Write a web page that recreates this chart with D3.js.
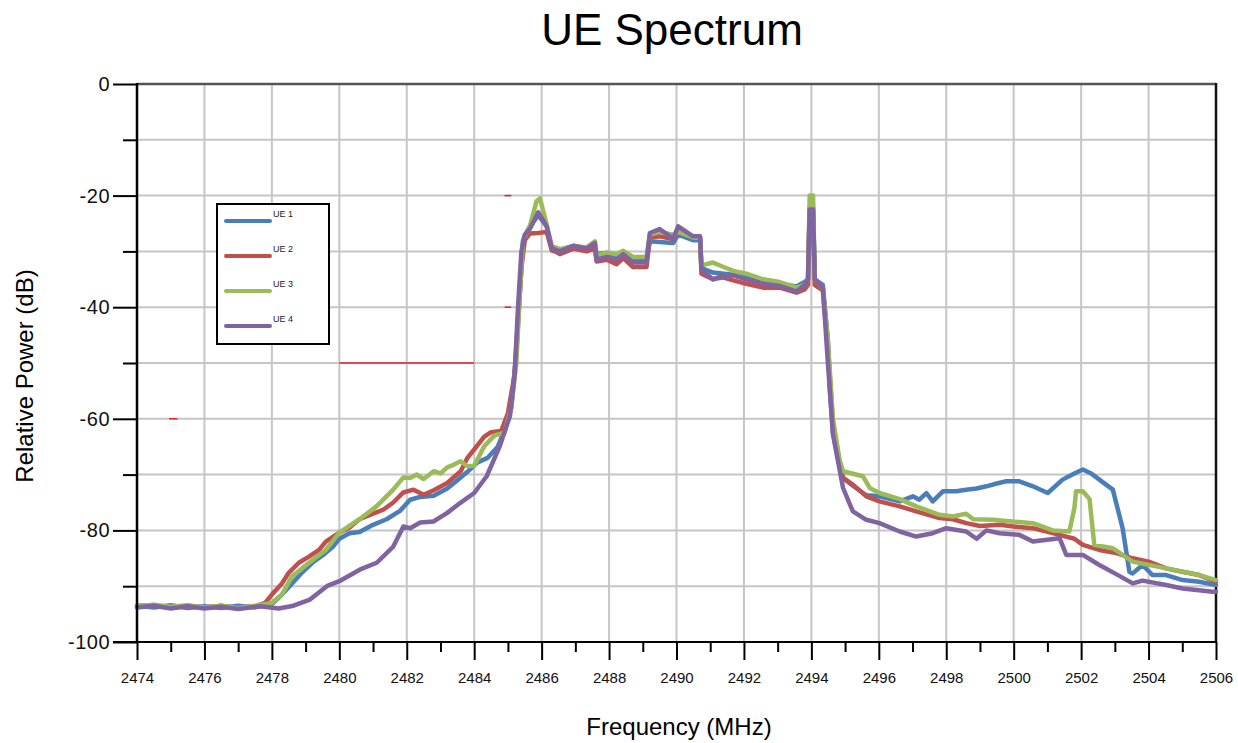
<!DOCTYPE html>
<html>
<head>
<meta charset="utf-8">
<script src="https://cdn.jsdelivr.net/npm/d3@7"></script>
<style>
  body { margin: 0; background: #fff; }
  text { font-family: "Liberation Sans", Arial, sans-serif; }
</style>
</head>
<body>
<svg id="chart" width="1238" height="743"></svg>
<script>
// 数据：频率 (MHz), 相对功率 (dB)
var seriesNames = ["UE 1", "UE 2", "UE 3", "UE 4"];

var ue1 = [[2474,-93.5],[2474.5,-93.8],[2475,-93.4],[2475.5,-93.9],[2476,-93.6],[2476.5,-93.9],[2477,-93.5],[2477.5,-93.8],
  [2478,-93.2],[2478.3,-91.5],[2478.6,-89.5],[2478.9,-87.5],[2479.2,-85.8],[2479.5,-84.5],[2479.8,-83],[2480,-81.5],
  [2480.3,-80.5],[2480.6,-80.3],[2481,-79],[2481.4,-78],[2481.8,-76.5],[2482.1,-74.5],[2482.4,-74],[2482.8,-73.8],
  [2483.2,-72.5],[2483.5,-71],[2483.8,-69.5],[2484.1,-67.8],[2484.4,-67],[2484.7,-65],[2484.9,-62],[2485.1,-58],
  [2485.25,-48],[2485.35,-38],[2485.45,-28],[2485.6,-26],[2485.9,-23.5],[2486.15,-25.5],[2486.3,-29.5],[2486.54,-30.5],
  [2486.94,-29.5],[2487.33,-29.8],[2487.58,-29],[2487.63,-30.5],[2487.93,-30.3],[2488.22,-31],[2488.42,-30.5],[2488.71,-31.5],
  [2489.11,-31.5],[2489.21,-28.2],[2489.5,-28.3],[2489.9,-28.5],[2490.05,-27],[2490.49,-28],[2490.7,-28],[2490.74,-33],
  [2491.08,-33.8],[2491.68,-34.2],[2492.07,-34.5],[2492.57,-35.3],[2493.06,-35.8],[2493.56,-36.3],[2493.8,-35.5],[2493.9,-35],
  [2493.95,-22],[2494.05,-22],[2494.1,-35],[2494.34,-36],[2494.49,-46],[2494.55,-55],[2494.64,-62.5],[2494.84,-68.5],
  [2494.94,-70.6],[2495.23,-72],[2495.63,-73.7],[2496.02,-73.9],[2496.62,-74.8],[2497.01,-73.9],[2497.2,-74.5],[2497.41,-73.3],
  [2497.6,-74.8],[2497.9,-73],[2498.3,-73],[2498.59,-72.7],[2498.9,-72.5],[2499.19,-72.1],[2499.5,-71.6],[2499.78,-71.2],
  [2500.17,-71.2],[2500.57,-72.1],[2501.01,-73.3],[2501.45,-70.9],[2501.8,-69.8],[2502.05,-69.1],[2502.3,-69.8],[2502.54,-70.9],
  [2502.94,-72.7],[2503.23,-79.6],[2503.43,-87.4],[2503.53,-87.7],[2503.82,-86.2],[2504.12,-88],[2504.52,-88],[2505.01,-88.9],
  [2505.5,-89.2],[2506,-89.8]];

var ue2 = [[2474,-93.5],[2474.5,-93.4],[2475,-93.8],[2475.5,-93.5],[2476,-93.8],[2476.5,-93.5],[2477,-93.9],[2477.5,-93.6],
  [2477.8,-93],[2478,-91.5],[2478.3,-89.5],[2478.5,-87.6],[2478.8,-85.8],[2479.1,-84.7],[2479.4,-83.5],[2479.6,-82],
  [2480,-80.4],[2480.3,-79.5],[2480.6,-78],[2481,-77],[2481.3,-76.3],[2481.6,-75],[2481.9,-73.2],[2482.2,-72.7],
  [2482.5,-73.6],[2482.8,-72.8],[2483.2,-71.5],[2483.6,-69.4],[2483.8,-67],[2484,-65.5],[2484.3,-63.2],[2484.5,-62.4],
  [2484.8,-62.2],[2485,-59],[2485.2,-52],[2485.3,-42],[2485.4,-33],[2485.5,-28],[2485.65,-26.8],[2485.9,-26.7],
  [2486.15,-26.5],[2486.3,-29.8],[2486.54,-30.3],[2486.94,-29.5],[2487.33,-30],[2487.58,-29.5],[2487.63,-31.8],[2487.93,-31.5],
  [2488.22,-32.3],[2488.42,-31.2],[2488.71,-32.8],[2489.11,-32.8],[2489.21,-27.5],[2489.5,-27.3],[2489.9,-27.8],[2490.05,-26.5],
  [2490.49,-27.3],[2490.7,-27.5],[2490.74,-34],[2491.08,-35],[2491.3,-34.5],[2491.68,-35.2],[2492.07,-35.8],[2492.57,-36.5],
  [2493.06,-36.5],[2493.56,-37.4],[2493.8,-36.8],[2493.9,-36],[2493.95,-23],[2494.05,-23],[2494.1,-36],[2494.34,-37],
  [2494.49,-47],[2494.64,-61],[2494.84,-68],[2494.94,-70.6],[2495.23,-71.8],[2495.63,-73.9],[2496.02,-74.8],[2496.62,-75.7],
  [2497.11,-76.6],[2497.8,-77.8],[2498.2,-78],[2498.59,-78.7],[2499,-79.2],[2499.58,-79],[2500,-79.3],[2500.57,-79.6],
  [2501.36,-80.8],[2501.8,-81.5],[2502.05,-82.6],[2502.54,-83.5],[2503,-84],[2503.53,-85],[2504,-85.6],[2504.52,-86.8],
  [2505,-87.4],[2505.5,-88],[2506,-89.2]];

var ue3 = [[2474,-93.6],[2474.5,-93.3],[2475,-93.7],[2475.5,-93.4],[2476,-93.8],[2476.5,-93.5],[2477,-93.9],[2477.5,-93.5],
  [2478,-93],[2478.3,-91.5],[2478.6,-88.2],[2478.9,-86.8],[2479.1,-85.8],[2479.6,-83.5],[2480,-80.4],[2480.6,-78],
  [2481.1,-75.7],[2481.6,-72.7],[2481.9,-70.5],[2482.1,-70.6],[2482.3,-70],[2482.5,-70.8],[2482.8,-69.4],[2483,-69.8],
  [2483.2,-68.7],[2483.4,-68.2],[2483.6,-67.6],[2483.8,-68.5],[2484,-68.4],[2484.3,-64.9],[2484.6,-63],[2484.9,-62.5],
  [2485.1,-58],[2485.25,-50],[2485.35,-38],[2485.45,-28],[2485.65,-25.5],[2485.85,-21],[2485.95,-20.5],[2486.1,-24],
  [2486.3,-29],[2486.54,-29.6],[2486.94,-29],[2487.33,-29.3],[2487.58,-28.2],[2487.63,-30.8],[2487.93,-30.2],[2488.22,-30.5],
  [2488.42,-29.9],[2488.71,-31],[2489.11,-31],[2489.21,-27],[2489.5,-26.5],[2489.9,-27],[2490.05,-26.5],[2490.49,-27.5],
  [2490.7,-27.6],[2490.74,-32.5],[2491.08,-32],[2491.4,-32.8],[2491.68,-33.5],[2492.07,-34],[2492.57,-35],[2493.06,-35.5],
  [2493.56,-36.5],[2493.8,-36],[2493.9,-35],[2493.95,-20],[2494.05,-20],[2494.1,-35],[2494.34,-36.5],[2494.49,-46],
  [2494.64,-60],[2494.84,-67.5],[2494.94,-69.4],[2495.53,-70.3],[2495.73,-72.4],[2496.02,-73.3],[2496.62,-74.4],[2497.11,-75.7],
  [2497.8,-77.2],[2498.2,-77.5],[2498.59,-77],[2498.8,-78],[2499.38,-78.1],[2499.78,-78.3],[2500.57,-78.7],[2501.16,-80],
  [2501.65,-80.2],[2501.8,-76],[2501.85,-73],[2502.05,-73],[2502.25,-74.4],[2502.39,-82.6],[2502.94,-83.2],[2503.53,-85.6],
  [2504.52,-86.8],[2505.5,-88],[2506,-88.9]];

var ue4 = [[2474,-93.8],[2474.5,-93.5],[2475,-94],[2475.5,-93.6],[2476,-94],[2476.5,-93.7],[2477,-94.1],[2477.65,-93.6],
  [2478.2,-94],[2478.64,-93.5],[2479.13,-92.4],[2479.63,-90],[2480,-89.1],[2480.62,-87],[2481.11,-85.8],[2481.6,-82.9],
  [2481.9,-79.3],[2482.1,-79.6],[2482.4,-78.6],[2482.79,-78.4],[2483.19,-76.9],[2483.58,-75.1],[2484,-73.3],[2484.37,-70.3],
  [2484.76,-64.9],[2485.06,-59.5],[2485.2,-52],[2485.3,-40],[2485.4,-30],[2485.5,-27],[2485.65,-26],[2485.9,-23],
  [2486.15,-25.5],[2486.3,-29.4],[2486.54,-30],[2486.94,-29],[2487.33,-29.5],[2487.58,-28.5],[2487.63,-31.5],[2487.93,-31],
  [2488.22,-31.5],[2488.42,-30.5],[2488.71,-32],[2489.11,-32],[2489.21,-26.7],[2489.5,-26],[2489.9,-27.7],[2490.05,-25.5],
  [2490.49,-27.3],[2490.7,-27.3],[2490.74,-33.3],[2491.08,-35],[2491.68,-34.3],[2492.07,-35],[2492.57,-35.8],[2493.06,-36.2],
  [2493.56,-37.2],[2493.8,-36],[2493.9,-35],[2493.95,-22.5],[2494.05,-22.5],[2494.1,-35],[2494.34,-36.5],[2494.49,-50],
  [2494.64,-62.8],[2494.94,-72.4],[2495.23,-76.6],[2495.63,-78.1],[2496.02,-78.7],[2496.62,-80.2],[2497.11,-81.1],[2497.6,-80.5],
  [2498,-79.6],[2498.59,-80.2],[2498.9,-81.5],[2499.19,-80],[2499.58,-80.5],[2500.17,-80.8],[2500.57,-82],[2501.36,-81.4],
  [2501.56,-84.4],[2502.05,-84.4],[2502.54,-86.2],[2503,-87.7],[2503.53,-89.5],[2503.82,-89],[2504.52,-89.8],[2505.01,-90.4],
  [2505.9,-91],[2506,-91]];

var allSeries = [ue1, ue2, ue3, ue4];

var xTickLabels = [2474, 2476, 2478, 2480, 2482, 2484, 2486, 2488, 2490, 2492, 2494, 2496, 2498, 2500, 2502, 2504, 2506];
var xMinorTicks = [2475, 2477, 2479, 2481, 2483, 2485, 2487, 2489, 2491, 2493, 2495, 2497, 2499, 2501, 2503, 2505];
var yTickLabels = [0, -20, -40, -60, -80, -100];
var yMinorTicks = [-10, -30, -50, -70, -90];
var yGrid = [-10, -20, -30, -40, -50, -60, -70, -80, -90];

// 图上零散的红色短线 [起始频率, 结束频率, dB]
var strayMarks = [[2474.95, 2475.2, -60], [2480, 2484, -50], [2484.9, 2485.1, -20], [2484.9, 2485.1, -40]];

var lineColor = ["#4a7ebb", "#c0504d", "#9bbb59", "#8064a2"];

var plotLeft = 137, plotRight = 1216, plotTop = 84, plotBottom = 642;

var svg = d3.select("#chart");

var xScale = d3.scaleLinear().domain([2474, 2506]).range([plotLeft, plotRight]);
var yScale = d3.scaleLinear().domain([0, -100]).range([plotTop, plotBottom]);

// 标题
svg.append("text")
  .attr("x", 672).attr("y", 45)
  .attr("text-anchor", "middle")
  .style("font-size", "44px")
  .text("UE Spectrum");

// 网格线
svg.append("g").selectAll("line")
  .data(xTickLabels.slice(1, -1))
  .enter().append("line")
  .attr("x1", function(d) { return xScale(d); })
  .attr("x2", function(d) { return xScale(d); })
  .attr("y1", plotTop).attr("y2", plotBottom)
  .style("stroke", "#c6c6c6").style("stroke-width", 2);

svg.append("g").selectAll("line")
  .data(yGrid)
  .enter().append("line")
  .attr("x1", plotLeft).attr("x2", plotRight)
  .attr("y1", function(d) { return yScale(d); })
  .attr("y2", function(d) { return yScale(d); })
  .style("stroke", "#c6c6c6").style("stroke-width", 2);

// 红色短线
svg.append("g").selectAll("line")
  .data(strayMarks)
  .enter().append("line")
  .attr("x1", function(d) { return xScale(d[0]); })
  .attr("x2", function(d) { return xScale(d[1]); })
  .attr("y1", function(d) { return yScale(d[2]); })
  .attr("y2", function(d) { return yScale(d[2]); })
  .style("stroke", "#e8202a").style("stroke-width", 1.5);

// 边框
svg.append("line")
  .attr("x1", plotLeft).attr("x2", plotRight).attr("y1", plotTop).attr("y2", plotTop)
  .style("stroke", "#555").style("stroke-width", 2.5);
svg.append("line")
  .attr("x1", plotRight).attr("x2", plotRight).attr("y1", plotTop - 1).attr("y2", plotBottom)
  .style("stroke", "#111").style("stroke-width", 2.5);

// 折线
var line = d3.line()
  .x(function(d) { return xScale(d[0]); })
  .y(function(d) { return yScale(d[1]); });

svg.append("g").selectAll("path")
  .data(allSeries)
  .enter().append("path")
  .attr("d", line)
  .style("fill", "none")
  .style("stroke", function(d, i) { return lineColor[i]; })
  .style("stroke-width", 4.5)
  .style("stroke-linejoin", "round")
  .style("stroke-linecap", "round");

// 纵轴
var yAxis = d3.axisLeft(yScale)
  .tickValues(yTickLabels)
  .tickSize(24)
  .tickPadding(3)
  .tickFormat(function(d) { return d; });
var yBar = svg.append("g")
  .attr("transform", "translate(" + plotLeft + ",0)")
  .call(yAxis);
yBar.select(".domain").remove();
yBar.selectAll(".tick line").style("stroke", "#000").style("stroke-width", 2);
yBar.selectAll("text").style("font-size", "20px").style("letter-spacing", "0.5px").style("font-family", "'Liberation Sans', Arial, sans-serif").style("fill", "#111");

var yMinor = svg.append("g")
  .attr("transform", "translate(" + plotLeft + ",0)")
  .call(d3.axisLeft(yScale).tickValues(yMinorTicks).tickSize(14).tickFormat(""));
yMinor.select(".domain").remove();
yMinor.selectAll(".tick line").style("stroke", "#000").style("stroke-width", 2);

svg.append("line")
  .attr("x1", plotLeft).attr("x2", plotLeft).attr("y1", plotTop - 1).attr("y2", plotBottom)
  .style("stroke", "#000").style("stroke-width", 2.5);

// 横轴
var xAxis = d3.axisBottom(xScale)
  .tickValues(xTickLabels)
  .tickSize(18)
  .tickPadding(12)
  .tickFormat(function(d) { return d; });
var xBar = svg.append("g")
  .attr("transform", "translate(0," + plotBottom + ")")
  .call(xAxis);
xBar.select(".domain").remove();
xBar.selectAll(".tick line").style("stroke", "#000").style("stroke-width", 2);
xBar.selectAll("text").style("font-size", "15px").style("font-family", "'Liberation Sans', Arial, sans-serif").style("fill", "#111");

var xMinor = svg.append("g")
  .attr("transform", "translate(0," + plotBottom + ")")
  .call(d3.axisBottom(xScale).tickValues(xMinorTicks).tickSize(10).tickFormat(""));
xMinor.select(".domain").remove();
xMinor.selectAll(".tick line").style("stroke", "#000").style("stroke-width", 2);

svg.append("line")
  .attr("x1", 113).attr("x2", plotRight).attr("y1", plotBottom).attr("y2", plotBottom)
  .style("stroke", "#000").style("stroke-width", 2);

// 轴标题
svg.append("text")
  .attr("x", 679).attr("y", 735)
  .attr("text-anchor", "middle")
  .style("font-size", "24px")
  .text("Frequency (MHz)");

svg.append("text")
  .attr("transform", "translate(33,376) rotate(-90)")
  .attr("text-anchor", "middle")
  .style("font-size", "24px")
  .text("Relative Power (dB)");

// 图例
var legend = svg.append("g");
legend.append("rect")
  .attr("x", 217).attr("y", 204).attr("width", 112).attr("height", 140)
  .style("fill", "#fff").style("stroke", "#000").style("stroke-width", 2);

legend.selectAll("line.key")
  .data(seriesNames)
  .enter().append("line")
  .attr("class", "key")
  .attr("x1", 226).attr("x2", 270)
  .attr("y1", function(d, i) { return 221 + i * 35; })
  .attr("y2", function(d, i) { return 221 + i * 35; })
  .style("stroke", function(d, i) { return lineColor[i]; })
  .style("stroke-width", 4)
  .style("stroke-linecap", "round");

legend.selectAll("text")
  .data(seriesNames)
  .enter().append("text")
  .attr("x", 273)
  .attr("y", function(d, i) { return 217 + i * 35; })
  .style("font-size", "9px")
  .style("fill", "#222")
  .text(function(d) { return d; });
</script>
</body>
</html>
